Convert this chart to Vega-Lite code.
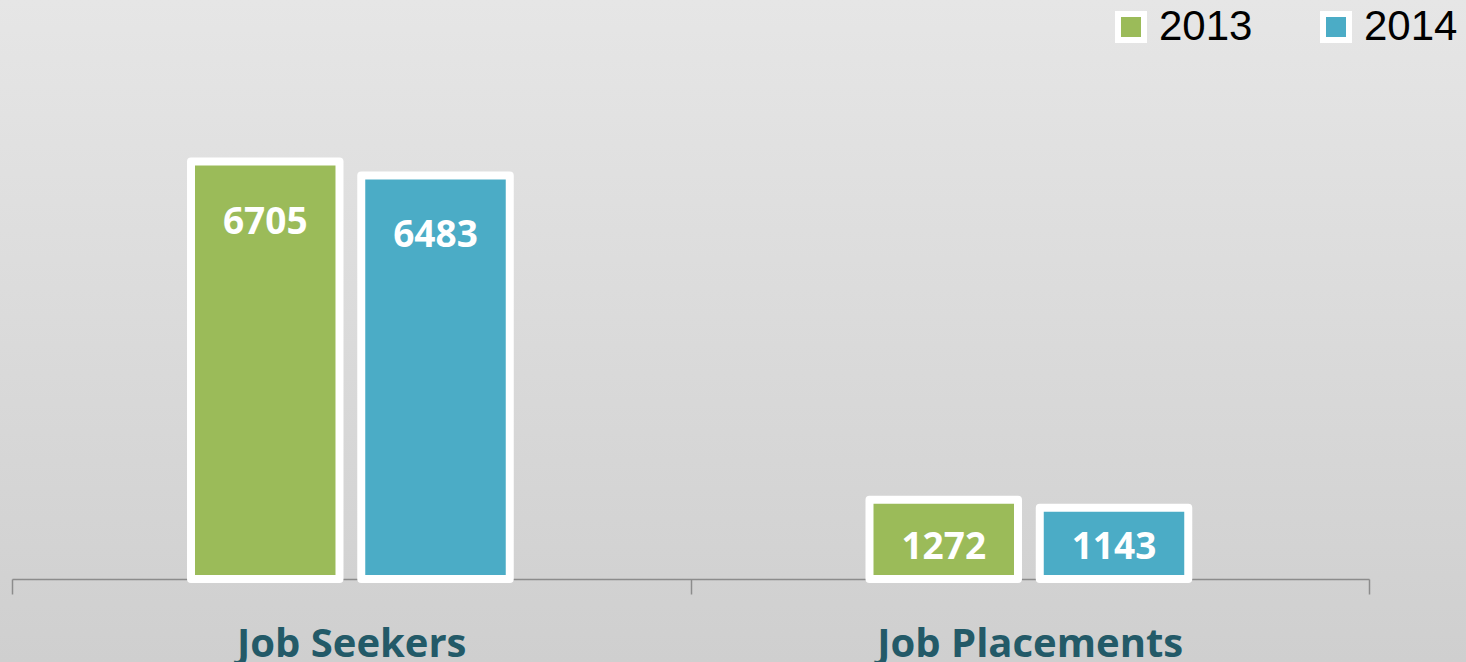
{
  "$schema": "https://vega.github.io/schema/vega-lite/v6.json",
  "width": 1466,
  "height": 662,
  "autosize": {"type": "none"},
  "padding": 0,
  "background": "#dadada",
  "data": {
    "values": [
      {"category": "Job Seekers", "year": "2013", "value": 6705},
      {"category": "Job Seekers", "year": "2014", "value": 6483},
      {"category": "Job Placements", "year": "2013", "value": 1272},
      {"category": "Job Placements", "year": "2014", "value": 1143}
    ]
  },
  "encoding": {
    "x": {
      "field": "category",
      "type": "nominal",
      "sort": ["Job Seekers", "Job Placements"],
      "scale": {"range": [12, 1369], "paddingInner": 0, "paddingOuter": 0},
      "axis": {
        "title": null,
        "orient": "bottom",
        "offset": -83,
        "grid": false,
        "domainColor": "#8c8c8c",
        "domainWidth": 1.5,
        "tickColor": "#8c8c8c",
        "tickWidth": 1.5,
        "tickSize": 15,
        "tickBand": "extent",
        "labelAngle": 0,
        "labelLimit": 0,
        "labelFont": "Open Sans",
        "labelFontSize": 40,
        "labelFontWeight": "bold",
        "labelColor": "#235a68",
        "labelPadding": 30
      }
    },
    "xOffset": {
      "field": "year",
      "type": "nominal",
      "scale": {"range": [179, 497.75], "paddingInner": 0.1278, "paddingOuter": 0}
    },
    "y": {
      "field": "value",
      "type": "quantitative",
      "scale": {"domain": [0, 9300], "range": [579, 0], "nice": false, "zero": true},
      "axis": null
    }
  },
  "layer": [
    {
      "mark": {"type": "bar", "stroke": "white", "strokeWidth": 8, "strokeJoin": "round"},
      "encoding": {
        "color": {
          "field": "year",
          "type": "nominal",
          "scale": {"domain": ["2013", "2014"], "range": ["#9bbb59", "#4bacc6"]},
          "legend": {
            "orient": "none",
            "legendX": 1110,
            "legendY": 6,
            "direction": "horizontal",
            "title": null,
            "symbolType": "square",
            "symbolSize": 676,
            "symbolStrokeColor": "white",
            "symbolStrokeWidth": 6,
            "symbolOpacity": 1,
            "labelFont": "Liberation Sans",
            "labelFontSize": 42,
            "labelColor": "black",
            "labelOffset": 7,
            "columnPadding": 58,
            "padding": 0
          }
        }
      }
    },
    {
      "transform": [{"filter": "datum.value > 3000"}],
      "mark": {"type": "text", "color": "white", "font": "Open Sans", "fontSize": 37, "fontWeight": "bold", "baseline": "middle", "align": "center", "dy": 61},
      "encoding": {"text": {"field": "value", "type": "quantitative", "format": "d"}}
    },
    {
      "transform": [{"filter": "datum.value <= 3000"}],
      "mark": {"type": "text", "color": "white", "font": "Open Sans", "fontSize": 37, "fontWeight": "bold", "baseline": "middle", "align": "center", "dy": -31},
      "encoding": {
        "y": {"datum": 0, "type": "quantitative"},
        "text": {"field": "value", "type": "quantitative", "format": "d"}
      }
    }
  ],
  "config": {
    "view": {
      "stroke": null,
      "fill": {
        "gradient": "linear",
        "x1": 0, "y1": 0, "x2": 0, "y2": 1,
        "stops": [
          {"offset": 0, "color": "#e6e6e6"},
          {"offset": 1, "color": "#cfcfcf"}
        ]
      }
    }
  }
}
